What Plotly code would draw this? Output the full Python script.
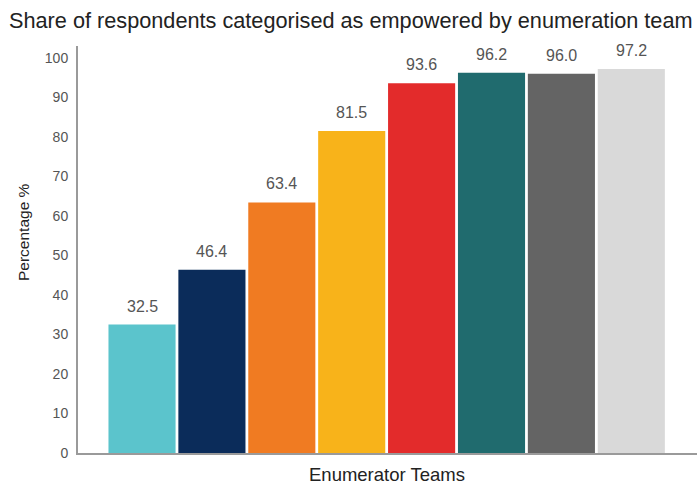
import plotly.graph_objects as go

teams = ["Team 1", "Team 2", "Team 3", "Team 4", "Team 5", "Team 6", "Team 7", "Team 8"]
values = [32.5, 46.4, 63.4, 81.5, 93.6, 96.2, 96.0, 97.2]
colors = ["#5BC4CC", "#0B2C5A", "#F07B22", "#F8B31A", "#E32B2B", "#206B6E", "#646464", "#D9D9D9"]
y_ticks = [0, 10, 20, 30, 40, 50, 60, 70, 80, 90, 100]

FONT = "Liberation Sans, Arial"

fig = go.Figure(go.Bar(
    x=teams, y=values,
    marker=dict(color=colors, line=dict(width=0)),
    cliponaxis=False,
))

label_annotations = [
    dict(x=t, y=v, xref="x", yref="y", text=f"{v:.1f}", showarrow=False,
         xanchor="center", yanchor="bottom", yshift=8,
         font=dict(family=FONT, size=16, color="#555555"))
    for t, v in zip(teams, values)
]

fig.update_layout(
    width=698, height=486,
    paper_bgcolor="white", plot_bgcolor="white",
    margin=dict(l=78, r=1, t=46, b=33),
    bargap=0.04,
    showlegend=False,
    title=dict(
        text="Share of respondents categorised as empowered by enumeration team",
        x=9 / 698, xanchor="left", y=1 - 20 / 486, yanchor="middle",
        font=dict(family=FONT, size=21.7, color="#222222"),
    ),
    font=dict(family=FONT),
    annotations=label_annotations + [
        dict(text="Percentage %", xref="paper", yref="paper",
             x=(23 - 78) / 619, y=(453 - 232) / 407, xanchor="center", yanchor="middle",
             textangle=-90, showarrow=False,
             font=dict(family=FONT, size=15.5, color="#222222")),
        dict(text="Enumerator Teams", xref="paper", yref="paper",
             x=(387 - 78) / 619, y=-(474 - 453) / 407, xanchor="center", yanchor="middle",
             showarrow=False,
             font=dict(family=FONT, size=18.5, color="#222222")),
    ],
)
fig.update_xaxes(
    range=[-0.916, 7.94], showticklabels=False, ticks="",
    showline=True, linecolor="#9A9A9A", linewidth=2, showgrid=False, zeroline=False,
)
fig.update_yaxes(
    range=[0, 103], tickvals=y_ticks, ticks="", ticklabelstandoff=5,
    tickfont=dict(family=FONT, size=14, color="#555555"),
    showline=True, linecolor="#9A9A9A", linewidth=2, showgrid=False, zeroline=False,
)

fig.write_html("out.html")
